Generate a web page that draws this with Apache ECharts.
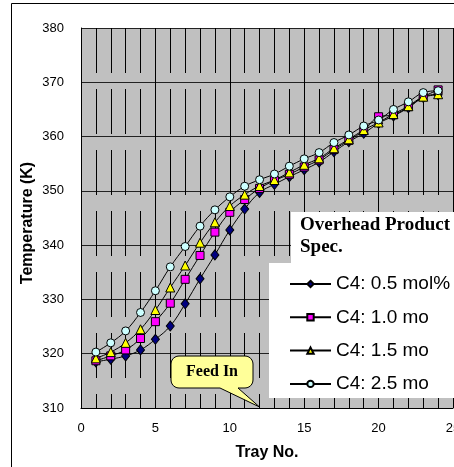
<!DOCTYPE html>
<html>
<head>
<meta charset="utf-8">
<script src="https://cdn.jsdelivr.net/npm/echarts@6/dist/echarts.min.js"></script>
<style>
  html, body { margin: 0; padding: 0; background: #fff; }
  #chart { width: 454px; height: 467px; }
</style>
</head>
<body>
<div id="chart"></div>
<script>
// Tray temperature profiles for four overhead C4 specifications
const trays = [1, 2, 3, 4, 5, 6, 7, 8, 9, 10, 11, 12, 13, 14, 15, 16, 17, 18, 19, 20, 21, 22, 23, 24];
const c4_05 = [318.5, 319.0, 319.6, 320.7, 322.65, 325.1, 329.2, 333.8, 338.2, 342.8, 346.65, 349.7, 351.2, 352.6, 353.9, 355.3, 357.2, 359.05, 360.6, 362.45, 363.8, 365.3, 367.2, 367.7];
const c4_10 = [318.7, 319.6, 320.7, 322.8, 325.9, 329.3, 333.7, 338.1, 342.4, 346.05, 348.4, 350.45, 351.9, 353.05, 354.4, 355.7, 357.6, 359.3, 361.1, 363.65, 364.0, 365.5, 367.3, 368.6];
const c4_15 = [319.15, 320.3, 322.0, 324.5, 328.05, 332.2, 336.25, 340.45, 344.2, 347.2, 349.3, 350.9, 352.0, 353.4, 354.8, 356.0, 357.85, 359.5, 361.2, 362.6, 364.15, 365.6, 367.35, 367.8];
const c4_25 = [320.3, 322.0, 324.2, 327.6, 331.6, 336.0, 339.75, 343.5, 346.5, 348.9, 350.85, 352.05, 353.1, 354.55, 355.9, 357.05, 358.9, 360.3, 361.95, 363.05, 365.0, 366.4, 368.1, 368.45];
const seriesNames = ['C4: 0.5 mol%', 'C4: 1.0 mo', 'C4: 1.5 mo', 'C4: 2.5 mo'];
const feedTray = 12;

const pairs = (ys) => trays.map((t, i) => [t, ys[i]]);

const chart = echarts.init(document.getElementById('chart'), null, { renderer: 'canvas' });

function lineSeries(name, ys, symbol, size, fill) {
  return {
    name: name,
    type: 'line',
    data: pairs(ys),
    smooth: 0.4,
    symbol: symbol,
    symbolSize: size,
    showSymbol: true,
    lineStyle: { color: '#000', width: 1 },
    itemStyle: { color: fill, borderColor: '#000', borderWidth: 1 },
    emphasis: { disabled: true },
    z: 3
  };
}

chart.setOption({
  animation: false,
  backgroundColor: '#fff',
  grid: {
    left: 81, top: 28, width: 372, height: 380,
    outerBoundsMode: 'none',
    show: true, backgroundColor: '#c0c0c0', borderWidth: 0
  },
  xAxis: {
    type: 'value',
    min: 0, max: 25, interval: 5,
    name: 'Tray No.',
    nameLocation: 'middle',
    nameGap: 37,
    nameTextStyle: { fontFamily: 'Liberation Sans', fontWeight: 'bold', fontSize: 16, color: '#000' },
    axisLine: { show: true, onZero: false, lineStyle: { color: '#000', width: 1 } },
    axisTick: { show: false },
    minorTick: { show: false, splitNumber: 5 },
    axisLabel: {
      margin: 14, fontFamily: 'Liberation Sans', fontSize: 13, color: '#000',
      alignMaxLabel: 'center', hideOverlap: false
    },
    splitLine: { show: true, lineStyle: { color: '#000', width: 1 } },
    minorSplitLine: { show: true, lineStyle: { color: '#000', width: 1, type: [45, 16] } }
  },
  yAxis: {
    type: 'value',
    min: 310, max: 380, interval: 10,
    axisLine: { show: true, onZero: false, lineStyle: { color: '#000', width: 1 } },
    axisTick: { show: false },
    axisLabel: { margin: 17, fontFamily: 'Liberation Sans', fontSize: 13, color: '#000' },
    splitLine: { show: true, lineStyle: { color: '#222', width: 1 } }
  },
  legend: {
    orient: 'vertical',
    left: 284, top: 269,
    itemWidth: 41, itemHeight: 8, itemGap: 13.3,
    selectedMode: false,
    textStyle: { fontFamily: 'Liberation Sans', fontSize: 19, lineHeight: 20, color: '#000' },
    data: seriesNames,
    z: 6
  },
  series: [
    lineSeries(seriesNames[0], c4_05, 'diamond', [8, 10], '#000080'),
    lineSeries(seriesNames[1], c4_10, 'rect', 8, '#ff00ff'),
    lineSeries(seriesNames[2], c4_15, 'triangle', 9, '#ffff00'),
    lineSeries(seriesNames[3], c4_25, 'circle', 8, '#ccffff')
  ]
});

// Callout outline: rounded box with a pointer down to the feed tray
const tip = chart.convertToPixel({ xAxisIndex: 0, yAxisIndex: 0 }, [feedTray, 310]);
const bx0 = 171, by0 = 356, bx1 = 253, by1 = 388, r = 8;
function corner(cx, cy, a0, a1) {
  const pts = [];
  for (let k = 0; k <= 6; k++) {
    const a = a0 + (a1 - a0) * k / 6;
    pts.push([cx + r * Math.cos(a), cy + r * Math.sin(a)]);
  }
  return pts;
}
const calloutPts = [].concat(
  corner(bx0 + r, by0 + r, Math.PI, Math.PI * 1.5),
  corner(bx1 - r, by0 + r, Math.PI * 1.5, Math.PI * 2),
  corner(bx1 - r, by1 - r, 0, Math.PI * 0.5),
  [[238, by1], [tip[0], tip[1] - 1], [220, by1]],
  corner(bx0 + r, by1 - r, Math.PI * 0.5, Math.PI)
);

chart.setOption({
  graphic: [
    {
      type: 'rect', silent: true, z: 0,
      shape: { x: 11.5, y: 3.5, width: 470, height: 480 },
      style: { fill: 'none', stroke: '#000', lineWidth: 1 }
    },
    {
      type: 'rect', silent: true, z: 5,
      shape: { x: 291, y: 212, width: 170, height: 60 },
      style: { fill: '#fff' }
    },
    {
      type: 'rect', silent: true, z: 5,
      shape: { x: 269, y: 263, width: 190, height: 135 },
      style: { fill: '#fff' }
    },
    {
      type: 'text', silent: true, z: 7,
      x: 300, y: 214,
      style: {
        text: 'Overhead Product\nSpec.',
        font: 'bold 19px "Liberation Serif"',
        lineHeight: 22,
        fill: '#000'
      }
    },
    {
      type: 'text', silent: true, z: 7,
      x: 28, y: 223, rotation: Math.PI / 2,
      style: {
        text: 'Temperature (K)',
        font: 'bold 16px "Liberation Sans"',
        fill: '#000',
        align: 'center',
        verticalAlign: 'middle'
      }
    },
    {
      type: 'polygon', silent: true, z: 7,
      shape: { points: calloutPts },
      style: { fill: '#ffff99', stroke: '#000', lineWidth: 1 }
    },
    {
      type: 'text', silent: true, z: 8,
      x: 212, y: 372,
      style: {
        text: 'Feed In',
        font: 'bold 16px "Liberation Serif"',
        fill: '#000',
        align: 'center',
        verticalAlign: 'middle'
      }
    }
  ]
});
</script>
</body>
</html>
